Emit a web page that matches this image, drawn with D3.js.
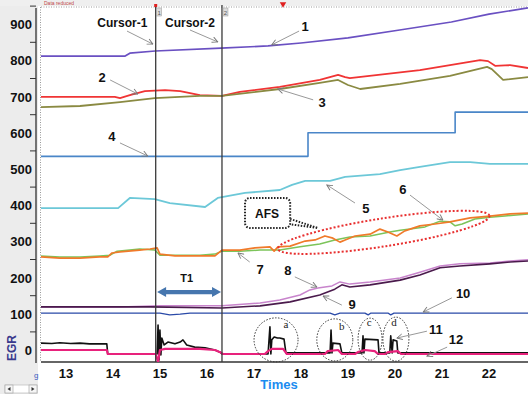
<!DOCTYPE html>
<html>
<head>
<meta charset="utf-8">
<script src="https://cdn.jsdelivr.net/npm/d3@7"></script>
<style>
  body { margin: 0; background: #fff; }
  svg { display: block; font-family: 'Liberation Sans', Arial, sans-serif; }
</style>
</head>
<body>
<svg width="528" height="394"></svg>
<script>
// series as [time, value]
const s1 = [[12.47,812],[14.26,812],[14.36,820],[14.9,826],[16.3,834],[17.3,840],[18,848],[19,862],[20.1,884],[21.2,906],[22,928],[22.83,945]]
const s2 = [[12.47,699],[14.04,699],[14.15,696],[14.36,704],[14.68,715],[15.11,718],[15.43,715],[15.85,704],[16.32,702],[16.7,713],[17.55,727],[18.4,746],[18.79,760],[18.94,754],[19.04,751],[20.53,773],[21.81,801],[21.98,798],[22.13,785],[22.45,787],[22.83,779]]
const s3 = [[12.47,671],[13.3,674],[14.15,685],[14.89,696],[15.85,702],[16.32,702],[17.55,721],[18.4,738],[18.79,746],[19.0,732],[19.26,721],[20.11,735],[21.17,757],[21.96,782],[22.06,776],[22.3,746],[22.83,754]]
const s4 = [[12.47,535],[18.15,600],[21.28,657],[22.83,657]]
const s5 = [[12.47,392],[14.11,392],[14.36,420],[14.89,417],[15.21,406],[15.96,395],[16.23,420],[16.81,434],[17.55,442],[17.81,456],[18.09,467],[18.62,467],[18.94,478],[19.68,486],[20.11,497],[20.53,506],[21.17,519],[21.6,519],[22.02,514],[22.83,514]]
const s6 = [[12.47,260],[12.87,257],[13.3,257],[13.72,260],[13.94,262],[14.09,273],[14.57,279],[14.89,276],[15.0,262],[15.32,262],[15.85,262],[16.17,265],[16.32,273],[16.7,273],[17.13,276],[17.55,276],[17.98,285],[18.4,293],[18.72,304],[19.04,312],[19.47,315],[19.89,326],[20.11,331],[20.32,334],[20.64,340],[20.96,356],[21.17,354],[21.28,343],[21.43,348],[21.7,362],[22.02,367],[22.34,370],[22.83,376]]
const s7 = [[12.47,257],[12.87,254],[13.3,254],[13.72,257],[13.89,257],[13.98,268],[14.15,271],[14.57,276],[14.79,279],[14.94,282],[15.0,265],[15.32,260],[15.85,260],[16.17,260],[16.32,276],[16.7,276],[17.02,282],[17.34,285],[17.43,273],[17.51,285],[17.77,287],[18.09,301],[18.3,304],[18.51,315],[18.68,309],[18.83,298],[18.94,304],[19.15,315],[19.47,320],[19.68,334],[19.85,326],[20.04,315],[20.21,329],[20.53,343],[20.85,348],[21.17,354],[21.6,365],[22.02,370],[22.45,376],[22.83,378]]
const s8 = [[12.47,119],[14.15,119],[15.0,122],[16.32,122],[17.13,130],[17.55,138],[17.98,152],[18.19,166],[18.36,171],[18.66,177],[18.83,188],[19.04,182],[19.47,188],[20.11,199],[20.53,215],[20.96,232],[21.38,238],[22.02,240],[22.45,246],[22.83,249]]
const s9 = [[12.47,119],[14.79,119],[16.32,116],[17.13,122],[17.77,133],[18.4,152],[18.72,168],[18.87,180],[19.04,174],[19.47,180],[20.11,193],[20.53,207],[20.96,227],[21.38,232],[22.02,238],[22.45,243],[22.83,246]]
const s10 = [[12.47,102],[15.0,102],[15.21,97],[15.43,99],[15.64,102],[18.62,102],[18.72,97],[18.83,102],[19.36,102],[19.43,97],[19.49,102],[19.85,102],[19.91,97],[19.98,102],[22.83,102]]
const s11 = [[12.47,19],[12.7,18],[12.87,20],[13.1,18],[13.3,19],[13.5,17],[13.72,17],[13.87,17],[13.89,-11],[14.94,-11],[14.96,69],[14.98,-28],[15.0,55],[15.02,-14],[15.04,33],[15.09,14],[15.17,22],[15.32,17],[15.43,22],[15.49,28],[15.57,14],[15.74,8],[15.96,6],[16.17,0],[16.28,-6],[16.32,-11],[17.3,-11],[17.34,64],[17.36,-11],[17.38,28],[17.43,36],[17.5,33],[17.55,33],[17.64,30],[17.68,-8],[18.62,-8],[18.64,55],[18.66,-8],[18.68,19],[18.83,17],[18.87,-8],[19.3,-8],[19.32,39],[19.34,-8],[19.36,30],[19.64,28],[19.66,-8],[19.89,-8],[19.91,39],[19.94,-8],[19.96,28],[20.04,25],[20.06,-8],[22.83,-8]]
const s12 = [[12.47,0],[13.87,0],[13.89,-11],[14.91,-11],[14.96,-33],[15.0,0],[15.11,3],[15.85,3],[16.17,0],[16.28,-6],[16.34,-11],[17.23,-11],[17.3,-3],[17.38,3],[17.62,3],[17.7,-11],[18.51,-11],[18.57,-3],[18.79,0],[18.87,-11],[19.15,-11],[19.21,-6],[19.36,0],[19.57,-3],[19.64,-11],[19.79,-11],[19.85,-6],[20.06,-3],[20.13,-11],[22.83,-11]]

const xTicks = [13, 14, 15, 16, 17, 18, 19, 20, 21, 22]
const yTicks = [0, 100, 200, 300, 400, 500, 600, 700, 800, 900]
const cursors = [14.91, 16.32]

// label text, text position, arrow from, arrow to
const notes = [
    ['Cursor-1', [14.2, 892], [14.3, 881], [14.85, 845]],
    ['Cursor-2', [15.64, 892], [15.64, 884], [16.23, 851]],
    ['1', [18.09, 881], [17.96, 881], [17.38, 843]],
    ['2', [13.77, 740], [13.94, 746], [14.53, 707]],
    ['3', [18.45, 671], [18.26, 691], [17.51, 721]],
    ['4', [13.98, 577], [14.15, 572], [14.74, 536]],
    ['5', [19.38, 378], [19.15, 406], [18.55, 456]],
    ['6', [20.17, 431], [20.32, 428], [21.02, 359]],
    ['7', [17.13, 210], [16.91, 243], [16.66, 268]],
    ['8', [17.72, 207], [17.87, 202], [18.34, 174]],
    ['9', [19.09, 113], [18.87, 124], [18.47, 149]],
    ['10', [21.45, 144], [21.21, 144], [20.6, 105]],
    ['11', [20.87, 44], [20.68, 52], [20.04, 33]],
    ['12', [21.3, 17], [21.11, 8], [20.68, -17]],
]
// event circles: letter, centre, letter position
const events = [
    ['a', [17.47, 28], [17.68, 60], 22, 22],
    ['b', [18.72, 28], [18.87, 55], 18, 21],
    ['c', [19.47, 30], [19.45, 66], 12, 21],
    ['d', [20.02, 30], [19.98, 66], 13, 22],
]

const svg = d3.select('svg')
const plotLeft = 41, plotRight = 528, plotTop = 7, plotBottom = 362

const x = d3.scaleLinear().domain([12.47, 22.83]).range([plotLeft, plotRight])
const y = d3.scaleLinear().domain([0, 900]).range([350, 24.2])

// panels
svg.append('rect').attr('x', 0).attr('y', 0).attr('width', 38).attr('height', 394).attr('fill', '#ececec')
svg.append('rect').attr('x', 0).attr('y', 0).attr('width', 528).attr('height', 6).attr('fill', '#efefef')
svg.append('line').attr('x1', plotLeft).attr('x2', plotRight).attr('y1', plotTop).attr('y2', plotTop)
    .attr('stroke', '#999').attr('stroke-dasharray', '1,1.5')
svg.append('line').attr('x1', plotLeft - 0.5).attr('x2', plotLeft - 0.5).attr('y1', plotTop).attr('y2', plotBottom)
    .attr('stroke', '#999').attr('stroke-dasharray', '1,1.5')
svg.append('text').attr('x', 44).attr('y', 5).attr('font-size', 5).attr('fill', '#c04848').text('Data reduced')
svg.append('path').attr('d', d3.symbol(d3.symbolTriangle, 18)()).attr('transform', 'translate(283,4) rotate(180)').attr('fill', '#e02020')

// y axis
svg.append('line').attr('x1', 36).attr('x2', 36).attr('y1', 8).attr('y2', 363).attr('stroke', '#333').attr('stroke-width', 1.3)
svg.selectAll('line.minor').data(yTicks).enter().append('line')
    .attr('x1', 30).attr('x2', 36)
    .attr('y1', (d) => y(d + 50)).attr('y2', (d) => y(d + 50))
    .attr('stroke', '#333')
svg.selectAll('text.ylab').data(yTicks).enter().append('text')
    .attr('x', 32).attr('y', (d) => y(d) + 5)
    .attr('text-anchor', 'end').attr('font-size', 13).attr('font-weight', 'bold').attr('fill', '#111')
    .text((d) => d)
svg.append('text').attr('transform', `translate(16,${y(0) - 2}) rotate(-90)`)
    .attr('text-anchor', 'middle').attr('font-size', 12).attr('font-weight', 'bold').attr('fill', '#3a3a8c').text('EGR')

// x axis
svg.append('line').attr('x1', plotLeft).attr('x2', plotRight).attr('y1', plotBottom).attr('y2', plotBottom).attr('stroke', '#333').attr('stroke-width', 1.3)
svg.selectAll('text.xlab').data(xTicks).enter().append('text')
    .attr('x', (d) => x(d)).attr('y', 378)
    .attr('text-anchor', 'middle').attr('font-size', 13).attr('font-weight', 'bold').attr('fill', '#111')
    .text((d) => d)
svg.append('text').attr('x', 279).attr('y', 389).attr('text-anchor', 'middle')
    .attr('font-size', 13).attr('font-weight', 'bold').attr('fill', '#1a8cf0').text('Times')
svg.append('text').attr('x', 34).attr('y', 378).attr('font-size', 8).attr('fill', '#3a5ac0').text('g')

// scroll bar
const sb = svg.append('g').attr('transform', 'translate(5,385)')
sb.append('rect').attr('width', 32).attr('height', 8).attr('fill', '#fff').attr('stroke', '#bbb').attr('stroke-width', 0.7)
sb.append('rect').attr('width', 8).attr('height', 8).attr('fill', '#f6f6f6').attr('stroke', '#aaa').attr('stroke-width', 0.7)
sb.append('rect').attr('x', 24).attr('width', 8).attr('height', 8).attr('fill', '#f6f6f6').attr('stroke', '#aaa').attr('stroke-width', 0.7)
sb.append('path').attr('d', 'M5.5,2 L2.5,4 L5.5,6 Z').attr('fill', '#333')
sb.append('path').attr('d', 'M26.5,2 L29.5,4 L26.5,6 Z').attr('fill', '#333')

// lines
svg.append('clipPath').attr('id', 'plot').append('rect')
    .attr('x', plotLeft).attr('y', plotTop).attr('width', plotRight - plotLeft).attr('height', plotBottom - plotTop)
const plot = svg.append('g').attr('clip-path', 'url(#plot)')
const line = d3.line().x((d) => x(d[0])).y((d) => y(d[1]))
const stepLine = d3.line().curve(d3.curveStepAfter).x((d) => x(d[0])).y((d) => y(d[1]))

const series = [
    [s1, '#6a50c2', 1.7, line],
    [s2, '#f03434', 1.8, line],
    [s3, '#8a8a42', 1.8, line],
    [s4, '#4a86c8', 1.6, stepLine],
    [s5, '#6cc8d8', 1.8, line],
    [s6, '#7cc45a', 1.5, line],
    [s7, '#f07a2a', 1.7, line],
    [s8, '#c884cc', 1.5, line],
    [s9, '#4a1a4c', 1.6, line],
    [s10, '#2a4aa8', 1.3, line],
    [s11, '#111', 1.6, line],
    [s12, '#e8227c', 2.2, line],
]
plot.selectAll('path.data').data(series).enter().append('path')
    .attr('class', 'data')
    .attr('fill', 'none')
    .attr('stroke', (d) => d[1])
    .attr('stroke-width', (d) => d[2])
    .attr('stroke-linejoin', 'round')
    .attr('d', (d) => d[3](d[0]))

// cursors
cursors.forEach((c, i) => {
    svg.append('line').attr('x1', x(c)).attr('x2', x(c)).attr('y1', plotTop - 2).attr('y2', plotBottom)
        .attr('stroke', '#3a3a3a').attr('stroke-width', 1.3)
    svg.append('rect').attr('x', x(c) + 1).attr('y', 8).attr('width', 5).attr('height', 8).attr('fill', '#ddd').attr('stroke', '#999').attr('stroke-width', 0.5)
    svg.append('text').attr('x', x(c) + 3.5).attr('y', 15).attr('text-anchor', 'middle').attr('font-size', 6).attr('fill', '#555').text(i + 1)
})
svg.append('rect').attr('x', x(cursors[0]) - 1.5).attr('y', 4).attr('width', 3).attr('height', 3).attr('fill', '#e02020')

// annotations
const defs = svg.append('defs')
defs.append('marker').attr('id', 'head').attr('viewBox', '0 0 10 10').attr('refX', 9).attr('refY', 5)
    .attr('markerWidth', 7).attr('markerHeight', 7).attr('orient', 'auto')
    .append('path').attr('d', 'M1,1 L9,5 L1,9').attr('fill', 'none').attr('stroke', '#777').attr('stroke-width', 1.3)

notes.forEach((n) => {
    svg.append('line')
        .attr('x1', x(n[2][0])).attr('y1', y(n[2][1]))
        .attr('x2', x(n[3][0])).attr('y2', y(n[3][1]))
        .attr('stroke', '#999').attr('stroke-width', 1).attr('marker-end', 'url(#head)')
    svg.append('text').attr('x', x(n[1][0])).attr('y', y(n[1][1]))
        .attr('text-anchor', 'middle').attr('font-size', n[0].length > 2 ? 12 : 13)
        .attr('font-weight', 'bold').attr('fill', '#111').text(n[0])
})

// T1 double arrow
const t1 = [14.94, 16.3], t1v = 160
const ax1 = x(t1[0]), ax2 = x(t1[1]), ay = y(t1v)
svg.append('path')
    .attr('d', `M${ax1},${ay} L${ax1 + 9},${ay - 5} L${ax1 + 9},${ay - 2.2} L${ax2 - 9},${ay - 2.2} L${ax2 - 9},${ay - 5} L${ax2},${ay} L${ax2 - 9},${ay + 5} L${ax2 - 9},${ay + 2.2} L${ax1 + 9},${ay + 2.2} L${ax1 + 9},${ay + 5} Z`)
    .attr('fill', '#4676ae')
svg.append('text').attr('x', x(15.57)).attr('y', y(188)).attr('text-anchor', 'middle')
    .attr('font-size', 11).attr('font-weight', 'bold').attr('fill', '#111').text('T1')

// AFS callout
const bx1 = x(16.81), bx2 = x(17.77), by1 = y(420), by2 = y(337)
svg.append('path')
    .attr('d', `M${bx2},${y(362)} L${x(18.36)},${y(337)} L${bx2 - 2},${y(348)}`)
    .attr('fill', 'none').attr('stroke', '#222').attr('stroke-width', 2).attr('stroke-dasharray', '1.5,1.5')
svg.append('rect').attr('x', bx1).attr('y', by1).attr('width', bx2 - bx1).attr('height', by2 - by1)
    .attr('rx', 5).attr('fill', '#fff').attr('stroke', '#222').attr('stroke-width', 2).attr('stroke-dasharray', '1.5,1.5')
svg.append('text').attr('x', x(17.28)).attr('y', y(365)).attr('text-anchor', 'middle')
    .attr('font-size', 12).attr('font-weight', 'bold').attr('fill', '#111').text('AFS')

// red ellipse around AFS signals
svg.append('ellipse')
    .attr('transform', `translate(${x(19.76)},${y(325)}) rotate(-8.9)`)
    .attr('rx', 107).attr('ry', 14)
    .attr('fill', 'none').attr('stroke', '#e83030').attr('stroke-width', 2).attr('stroke-dasharray', '2,2')

// event circles
events.forEach((e) => {
    svg.append('ellipse').attr('cx', x(e[1][0])).attr('cy', y(e[1][1]))
        .attr('rx', e[3]).attr('ry', e[4])
        .attr('fill', 'none').attr('stroke', '#333').attr('stroke-width', 1).attr('stroke-dasharray', '1.5,1.5')
    svg.append('text').attr('x', x(e[2][0])).attr('y', y(e[2][1]))
        .attr('text-anchor', 'middle').attr('font-size', 11)
        .attr('font-family', "'Liberation Serif', serif").attr('fill', '#222').text(e[0])
})
</script>
</body>
</html>
